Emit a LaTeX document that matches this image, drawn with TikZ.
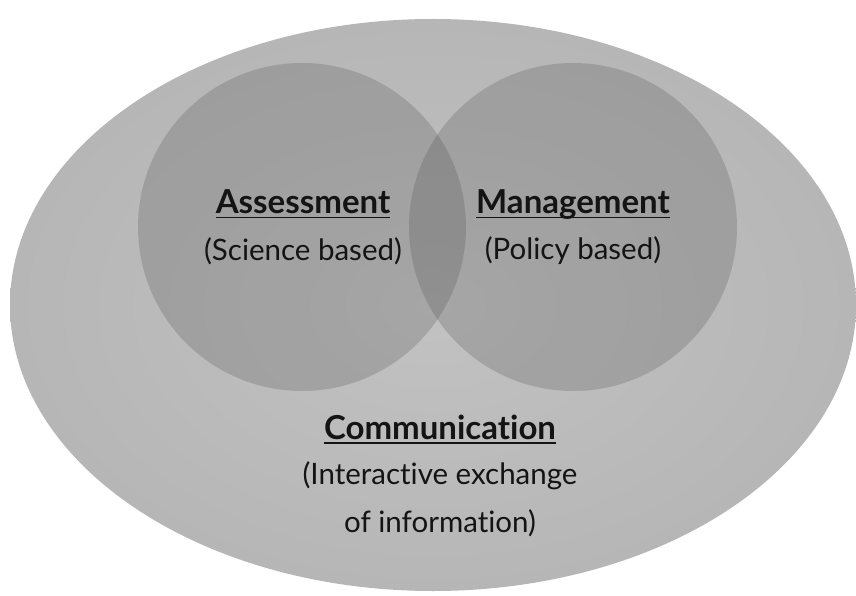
\documentclass[tikz,border=0pt]{standalone}
\usepackage{fontspec}
\setmainfont{Lato}[Ligatures={NoCommon,NoRare,NoDiscretionary}]
\usetikzlibrary{shapes.geometric}
\definecolor{outerc}{RGB}{194,194,194}
\definecolor{outeredge}{RGB}{182,182,182}
\definecolor{circc}{RGB}{67,67,67}
\definecolor{txt}{RGB}{20,20,20}
\newcommand{\myul}[1]{\setbox0\hbox{#1}\rlap{\rule[-4.5pt]{\wd0}{1.6pt}}\box0}
\tikzset{
  head/.style={font=\fontsize{33}{36}\selectfont\bfseries, text=txt, inner sep=0pt},
  sub/.style={font=\fontsize{29.5}{33}\selectfont, text=txt, inner sep=0pt},
  venn/.style={circle, minimum size=328pt, fill=circc, fill opacity=0.22, inner sep=0pt}
}
\begin{document}
\begin{tikzpicture}[x=1pt,y=-1pt]
\useasboundingbox (0,0) rectangle (856,596);
\fill[white] (0,0) rectangle (856,596);
\shade[inner color=outerc, outer color=outeredge] (433,305) ellipse [x radius=423, y radius=286];
\node[venn] (left) at (302,227) {};
\node[venn] (right) at (573,227) {};
\node[head, anchor=base] (assess) at (303,214) {\myul{Assessment}};
\node[sub] (science) at (303,251) {(Science based)};
\node[head, anchor=base] (manage) at (573,214) {\myul{Management}};
\node[sub] (policy) at (573,251) {(Policy based)};
\node[head, anchor=base] (comm) at (440,439) {\myul{Communication}};
\node[sub] (inter) at (440,476) {(Interactive exchange};
\node[sub] (info) at (440,523) {of information)};
\end{tikzpicture}
\end{document}
